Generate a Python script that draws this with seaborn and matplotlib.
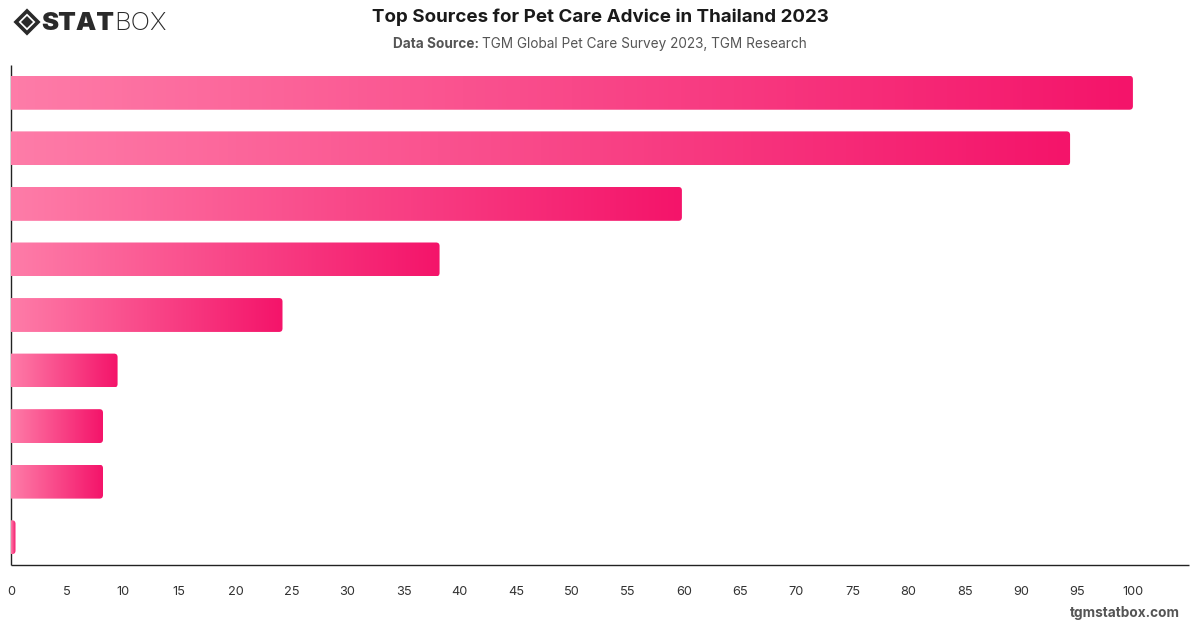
import numpy as np
import pandas as pd
import matplotlib
matplotlib.use("Agg")
import matplotlib.pyplot as plt
from matplotlib.colors import LinearSegmentedColormap
from matplotlib.patches import FancyBboxPatch, Polygon
import seaborn as sns

# ---- data ----
categories = ["Source A", "Source B", "Source C", "Source D", "Source E",
              "Source F", "Source G", "Source H", "Source I"]
values = [100, 94.4, 59.8, 38.2, 24.2, 9.5, 8.2, 8.2, 0.4]
xticks = list(range(0, 101, 5))

df = pd.DataFrame({"category": categories, "value": values})

sns.set_theme(style="white")
plt.rcParams["font.family"] = ["Inter", "DejaVu Sans"]

W, H = 1200, 628
fig = plt.figure(figsize=(W / 100, H / 100), dpi=100)
fig.patch.set_facecolor("white")

def fx(px):
    return px / W

def fy(py):
    return 1 - py / H

ax = fig.add_axes([fx(11), fy(565), fx(1189) - fx(11), fy(65) - fy(565)])
sns.barplot(data=df, x="value", y="category", orient="h", ax=ax,
            width=0.61, color="#f4136a", saturation=1)

xmax = 105
ax.set_xlim(0, xmax)
ax.set_ylim(len(categories) - 0.5, -0.5)

cmap = LinearSegmentedColormap.from_list("pinkgrad", ["#fe7ca8", "#f4146a"])
grad = np.linspace(0, 1, 256).reshape(1, -1)

# pixels per data unit
ax_w_px = 1189 - 11
ax_h_px = 565 - 65
x_per_px = xmax / ax_w_px
y_per_px = len(categories) / ax_h_px
r_px = 3.5

for p in list(ax.patches):
    x0, y0 = p.get_x(), p.get_y()
    w, h = p.get_width(), p.get_height()
    p.set_visible(False)
    rounding = r_px * x_per_px
    clip = FancyBboxPatch((x0 - 1.0, y0), w + 1.0, h,
                          boxstyle=f"round,pad=0,rounding_size={rounding}",
                          mutation_aspect=y_per_px / x_per_px,
                          transform=ax.transData, facecolor="none",
                          edgecolor="none", visible=False)
    im = ax.imshow(grad, cmap=cmap, extent=[x0, x0 + w, y0 + h, y0],
                   aspect="auto", interpolation="bilinear", zorder=3)
    im.set_clip_path(clip)

ax.set_xlim(0, xmax)
ax.set_ylim(len(categories) - 0.5, -0.5)
ax.set_aspect("auto")

ax.set_xticks(xticks)
ax.set_xticklabels([str(t) for t in xticks], fontsize=9.2, color="#333333")
ax.tick_params(axis="x", length=0, pad=15, bottom=False)
ax.tick_params(axis="y", length=0, left=False)
ax.set_yticks([])
ax.set_xlabel("")
ax.set_ylabel("")
for s in ["top", "right"]:
    ax.spines[s].set_visible(False)
for s in ["left", "bottom"]:
    ax.spines[s].set_color("#222222")
    ax.spines[s].set_linewidth(1.0)
    ax.spines[s].set_capstyle("butt")
ax.grid(False)

# ---- titles ----
fig.text(0.5, fy(17), "Top Sources for Pet Care Advice in Thailand 2023",
         ha="center", va="center", fontsize=13.5, fontweight="bold",
         color="#1a1a1a")
sub_y = fy(44)
t1 = fig.text(0.5, sub_y, "Data Source: ", ha="right", va="center",
              fontsize=9.8, fontweight="bold", color="#555555")
t2 = fig.text(0.5, sub_y, "TGM Global Pet Care Survey 2023, TGM Research",
              ha="left", va="center", fontsize=9.8, color="#555555")
fig.canvas.draw()
r = fig.canvas.get_renderer()
w1 = t1.get_window_extent(r).width
w2 = t2.get_window_extent(r).width
left = 600 - (w1 + w2) / 2
t1.set_position((fx(left + w1), sub_y))
t2.set_position((fx(left + w1), sub_y))

fig.text(fx(1180), fy(613), "tgmstatbox.com", ha="right", va="center",
         fontsize=9.8, fontweight="bold", color="#555555")

# ---- logo ----
cx, cy, rr = 27, 22, 11
outer = Polygon([(fx(cx - rr), fy(cy)), (fx(cx), fy(cy - rr)),
                 (fx(cx + rr), fy(cy)), (fx(cx), fy(cy + rr))],
                closed=True, transform=fig.transFigure, facecolor="none",
                edgecolor="#2a2a2a", linewidth=2.6)
ri = 6
inner = Polygon([(fx(cx - ri), fy(cy)), (fx(cx), fy(cy - ri)),
                 (fx(cx + ri), fy(cy)), (fx(cx), fy(cy + ri))],
                closed=True, transform=fig.transFigure, facecolor="#2a2a2a",
                edgecolor="none")
fig.patches.extend([outer, inner])
ls = fig.text(fx(41), fy(23), "STAT", ha="left", va="center", fontsize=18.5,
              fontweight="black", color="#2a2a2a")
fig.canvas.draw()
wl = ls.get_window_extent(r).width
fig.text(fx(41 + wl), fy(23), "BOX", ha="left", va="center", fontsize=18.5,
         fontweight="light", color="#2a2a2a")

fig.savefig("out.png", dpi=100, facecolor="white")
